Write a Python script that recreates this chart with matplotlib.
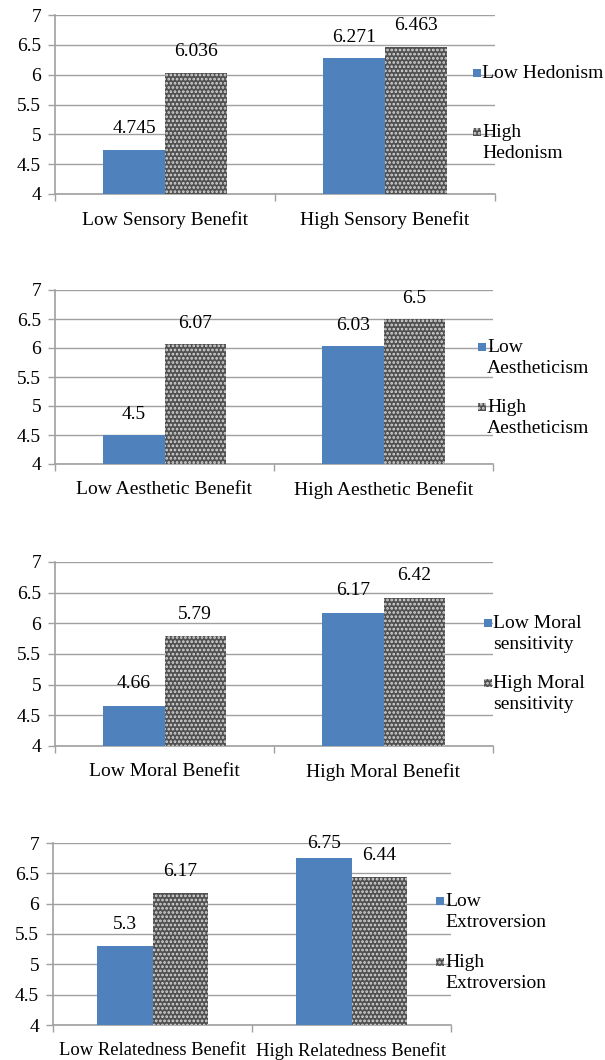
import matplotlib.pyplot as plt
from matplotlib.patches import Rectangle

plt.rcParams['font.family'] = ['Liberation Serif', 'DejaVu Serif']
plt.rcParams['hatch.linewidth'] = 1.3

categories = [
    ["Low Sensory Benefit", "High Sensory Benefit"],
    ["Low Aesthetic Benefit", "High Aesthetic Benefit"],
    ["Low Moral Benefit", "High Moral Benefit"],
    ["Low Relatedness Benefit", "High Relatedness Benefit"],
]
low_values = [[4.745, 6.271], [4.5, 6.03], [4.66, 6.17], [5.3, 6.75]]
high_values = [[6.036, 6.463], [6.07, 6.5], [5.79, 6.42], [6.17, 6.44]]
low_labels = [["4.745", "6.271"], ["4.5", "6.03"], ["4.66", "6.17"], ["5.3", "6.75"]]
high_labels = [["6.036", "6.463"], ["6.07", "6.5"], ["5.79", "6.42"], ["6.17", "6.44"]]
legend_low = ["Low Hedonism", "Low\nAestheticism", "Low Moral\nsensitivity", "Low\nExtroversion"]
legend_high = ["High\nHedonism", "High\nAestheticism", "High Moral\nsensitivity", "High\nExtroversion"]
yticks = [4, 4.5, 5, 5.5, 6, 6.5, 7]
ytick_labels = ["4", "4.5", "5", "5.5", "6", "6.5", "7"]

W, H = 605, 1060
fig = plt.figure(figsize=(W / 100, H / 100), dpi=100)

blue = '#4f81bd'
grid = '#a0a0a0'
dark = '#505050'

# pixel boxes: left, right, top(7), bottom(4)
boxes = [(55, 495, 15, 194), (55, 493, 290, 464), (55, 493, 562, 746), (53, 451, 843, 1025)]
# legend marker positions (x, y low, y high)
leg_pos = [(473, 73, 132), (478, 347, 407), (484, 623, 683), (436, 901, 962)]
xlabel_fs = [14, 14, 14, 13.4]

fs = 14


def put_label(ax, xpos, v, s):
    # label sits above the bar but is kept inside the plot area, like Excel does
    ax.text(xpos, min(v + 0.36, 7.0), s, ha='center', va='center', fontsize=fs)


for i in range(4):
    l, r, t, b = boxes[i]
    ax = fig.add_axes([l / W, 1 - b / H, (r - l) / W, (b - t) / H])
    x = [0, 1]
    w = 0.28
    ax.bar([xi - w / 2 for xi in x], [v - 4 for v in low_values[i]], w, bottom=4,
           color=blue, zorder=3)
    ax.bar([xi + w / 2 for xi in x], [v - 4 for v in high_values[i]], w, bottom=4,
           facecolor=dark, edgecolor='#d8d8d8', hatch='....', linewidth=0, zorder=3)
    for xi, v, s in zip(x, low_values[i], low_labels[i]):
        put_label(ax, xi - w / 2, v, s)
    for xi, v, s in zip(x, high_values[i], high_labels[i]):
        put_label(ax, xi + w / 2, v, s)
    ax.set_xlim(-0.5, 1.5)
    ax.set_ylim(4, 7)
    ax.set_yticks(yticks)
    ax.set_yticklabels(ytick_labels, fontsize=fs)
    ax.set_xticks([0, 1])
    ax.set_xticklabels(categories[i], fontsize=xlabel_fs[i])
    ax.set_xticks([-0.5, 0.5, 1.5], minor=True)
    ax.tick_params(axis='x', which='major', length=0, pad=12)
    ax.tick_params(axis='x', which='minor', length=5, direction='out', color=grid, width=1)
    ax.tick_params(axis='y', length=5, direction='out', color=grid, width=1, pad=5)
    ax.grid(axis='y', color=grid, linewidth=1, zorder=0)
    for side in ['top', 'right']:
        ax.spines[side].set_visible(False)
    ax.spines['left'].set_color(grid)
    ax.spines['bottom'].set_color(grid)
    ax.spines['left'].set_linewidth(1.2)
    ax.spines['bottom'].set_linewidth(1.2)

    lx, ly1, ly2 = leg_pos[i]
    sq = 8
    fig.patches.append(Rectangle((lx / W, 1 - (ly1 + sq / 2) / H), sq / W, sq / H,
                                 transform=fig.transFigure, facecolor=blue, edgecolor='none'))
    fig.patches.append(Rectangle((lx / W, 1 - (ly2 + sq / 2) / H), sq / W, sq / H,
                                 transform=fig.transFigure, facecolor=dark,
                                 edgecolor='#d8d8d8', hatch='....', linewidth=0))
    fig.text((lx + sq + 1) / W, 1 - (ly1 - 8) / H, legend_low[i], fontsize=fs,
             va='top', ha='left', linespacing=1.32)
    fig.text((lx + sq + 1) / W, 1 - (ly2 - 8) / H, legend_high[i], fontsize=fs,
             va='top', ha='left', linespacing=1.32)

fig.savefig('out.png', dpi=100)
